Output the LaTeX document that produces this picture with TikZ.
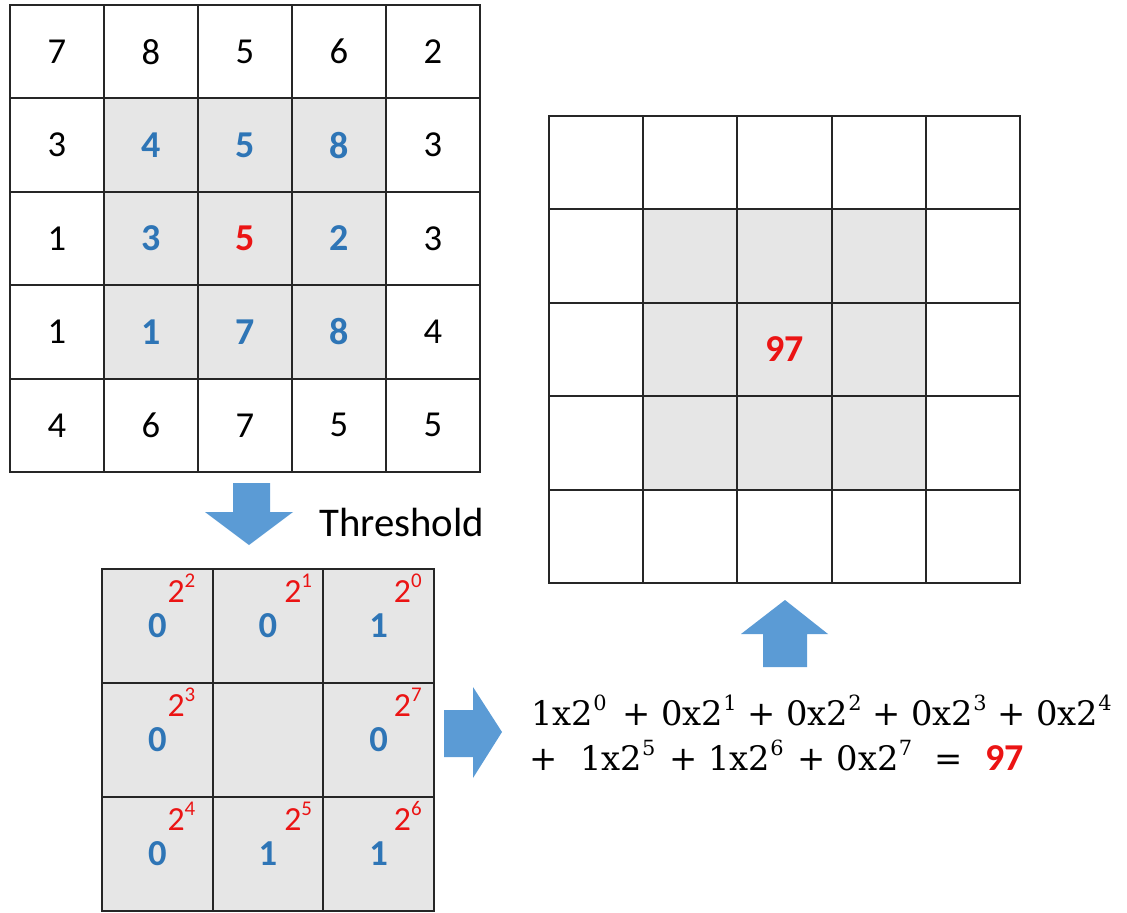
\documentclass[tikz,border=0pt]{standalone}
\usepackage{fontspec}
\setmainfont{Carlito}
\newfontfamily\eqfont{DejaVu Serif}
\usepackage{xcolor}
\usepackage{tikz}

\definecolor{cellgray}{RGB}{230,230,230}
\definecolor{numblue}{RGB}{46,117,182}
\definecolor{numred}{RGB}{235,20,20}
\definecolor{arrowblue}{RGB}{91,155,213}

\newcommand{\pw}[1]{2\raisebox{.42em}{\scalebox{.62}{#1}}}

\tikzset{
  gridbox/.style={draw=black!85, line width=1.3pt, inner sep=0pt, outer sep=0pt},
  tcell/.style={gridbox, minimum width=2.35cm, minimum height=2.335cm},
  ocell/.style={gridbox, minimum width=2.355cm, minimum height=2.335cm},
  bcell/.style={gridbox, fill=cellgray, minimum width=2.7675cm, minimum height=2.85cm},
  pnum/.style={font=\fontsize{26}{31}\selectfont},
  bnum/.style={text=numblue, font=\fontsize{27}{32}\selectfont\bfseries},
  rnum/.style={text=numred, font=\fontsize{27}{32}\selectfont\bfseries},
  weight/.style={text=numred, anchor=base west, inner sep=0pt, font=\fontsize{24}{28}\selectfont},
  eqline/.style={anchor=base west, inner sep=0pt, font=\eqfont\fontsize{24}{28}\selectfont},
  bigarrow/.style={fill=arrowblue}
}

\begin{document}
\begin{tikzpicture}[x=0.025cm, y=-0.025cm]
	\useasboundingbox (0,0) rectangle (1127,913);
	% input patch
	\fill[cellgray] (104,98.4) rectangle (386,378.6);
	\foreach \row [count=\i from 0] in {{7/pnum,8/pnum,5/pnum,6/pnum,2/pnum},
			{3/pnum,4/bnum,5/bnum,8/bnum,3/pnum},
			{1/pnum,3/bnum,5/rnum,2/bnum,3/pnum},
			{1/pnum,1/bnum,7/bnum,8/bnum,4/pnum},
			{4/pnum,6/pnum,7/pnum,5/pnum,5/pnum}}
		\foreach \v/\s [count=\j from 0] in \row
			\node[tcell, \s] (t\i\j) at ({57+94*\j}, {51.7+93.4*\i}) {\v};
	% output image
	\fill[cellgray] (643.2,209.4) rectangle (925.8,489.6);
	\foreach \i in {0,...,4}
		\foreach \j in {0,...,4}
			\node[ocell] (o\i\j) at ({596.1+94.2*\j}, {162.7+93.4*\i}) {};
	\node[rnum] (res) at (o22) {97};
	% thresholded neighbours
	\foreach \row [count=\i from 0] in {{0,0,1},{0,{},0},{0,1,1}}
		\foreach \v [count=\j from 0] in \row
			\node[bcell, bnum, font=\fontsize{26}{31}\selectfont\bfseries] (b\i\j) at ({157.3+110.7*\j}, {626+114*\i}) {\v};
	\foreach \n/\e/\dx in {b00/2/10, b01/1/16, b02/0/15, b10/3/10, b12/7/15, b20/4/10, b21/5/16, b22/6/15}
		\node[weight] (w\n) at ([shift={(\dx,-24)}]\n.center) {\pw{\e}};
	% block arrows
	\fill[bigarrow] (233,483) -- (270,483) -- (270,512) -- (293,512) -- (249,545) -- (205,512) -- (233,512) -- cycle;
	\fill[bigarrow] (763,667) -- (807,667) -- (807,634) -- (828,634) -- (785,600) -- (741,634) -- (763,634) -- cycle;
	\fill[bigarrow] (444,710) -- (473,710) -- (473,687) -- (502,732) -- (473,778) -- (473,757) -- (444,757) -- cycle;
	\node[anchor=base west, inner sep=0pt, font=\fontsize{29}{35}\selectfont] (thr) at (319,536) {Threshold};
	% sum of weights
	\node[eqline] (eqa) at (531,725) {1x\pw{0}\hspace{.15em} + 0x\pw{1} + 0x\pw{2} + 0x\pw{3} + 0x\pw{4}};
	\node[eqline] (eqb) at (529,770) {+\hspace{.35em} 1x\pw{5}\hspace{.1em} + 1x\pw{6}\hspace{.1em} + 0x\pw{7}\hspace{.35em} =\hspace{.35em} {\rmfamily\bfseries\fontsize{27}{32}\selectfont\color{numred}97}};
\end{tikzpicture}
\end{document}
